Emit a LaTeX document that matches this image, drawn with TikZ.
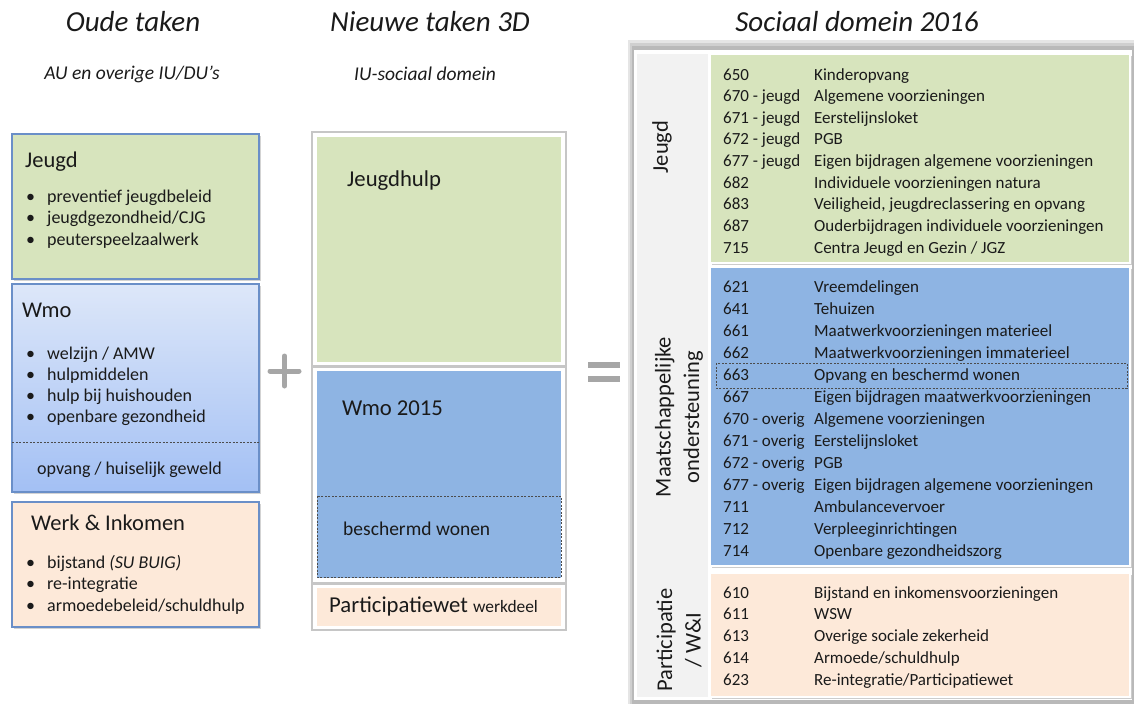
\documentclass[tikz,border=0pt]{standalone}
\usepackage{fontspec}
\setmainfont{Carlito}
\usetikzlibrary{shadows}
\definecolor{jgreen}{HTML}{D7E4BD}
\definecolor{wblue}{HTML}{8EB4E3}
\definecolor{ppeach}{HTML}{FDE9D9}
\definecolor{boxedge}{HTML}{6A8FC8}
\definecolor{wtop}{HTML}{DDE7F9}
\definecolor{wbot}{HTML}{A3C0F4}
\definecolor{panelgray}{HTML}{F2F2F2}
\definecolor{signgray}{HTML}{A6A6A6}
\definecolor{txt}{HTML}{1A1A1A}
\begin{document}
\begin{tikzpicture}[x=1pt,y=-1pt,
  title/.style={font=\fontsize{29}{34}\selectfont\itshape, inner sep=0pt, text=txt},
  subtitle/.style={font=\fontsize{19.5}{23}\selectfont\itshape, inner sep=0pt, text=txt},
  head/.style={font=\fontsize{22.5}{27}\selectfont, anchor=base west, inner sep=0pt, text=txt},
  item/.style={font=\fontsize{18}{21}\selectfont, anchor=base west, inner sep=0pt, text=txt},
  row/.style={font=\fontsize{17}{20}\selectfont, anchor=base west, inner sep=0pt, text=txt},
  midlabel/.style={font=\fontsize{22.7}{27}\selectfont, anchor=base west, inner sep=0pt, text=txt},
  sidelabel/.style={font=\fontsize{22.5}{28.5}\selectfont, rotate=90, align=center, inner sep=0pt, text=txt},
  oldbox/.style={draw=boxedge, line width=1.2pt,
    drop shadow={opacity=0.35, shadow xshift=1.5pt, shadow yshift=-1.5pt}},
  frame/.style={fill=white, draw=gray!45, line width=1.2pt,
    drop shadow={opacity=0.35, shadow xshift=1.2pt, shadow yshift=-1.2pt}},
  section/.style={draw=white, line width=1.2pt,
    drop shadow={opacity=0.4, shadow xshift=1.5pt, shadow yshift=-1.5pt}},
  dashbox/.style={draw=gray!60!black, dashed, dash pattern=on 2pt off 1.5pt, line width=0.6pt},
  sign/.style={draw=signgray, line width=5pt, line cap=round}
]
\useasboundingbox (0,0) rectangle (1134,704);

% ---------- column titles ----------
\node[title] (t1) at (133,22) {Oude taken};
\node[title] (t2) at (430,22) {Nieuwe taken 3D};
\node[title] (t3) at (857,22) {Sociaal domein 2016};
\node[subtitle] (s1) at (132,74) {AU en overige IU/DU’s};
\node[subtitle] (s2) at (425,74) {IU-sociaal domein};

% ---------- old tasks ----------
\draw[oldbox, fill=jgreen] (12,134) rectangle (259,279);
\node[head] (oj) at (25,167) {Jeugd};
\foreach \t [count=\i from 0] in {preventief jeugdbeleid, jeugdgezondheid/CJG, peuterspeelzaalwerk}{
  \node[item] (ojb\i) at (26,202+21.5*\i) {•};
  \node[item] (oji\i) at (47,202+21.5*\i) {\t};
}

\draw[oldbox, top color=wtop, bottom color=wbot] (12,284) rectangle (259,492);
\draw[dashbox] (12,442) -- (259,442);
\node[head] (ow) at (22,317) {Wmo};
\foreach \t [count=\i from 0] in {welzijn / AMW, hulpmiddelen, hulp bij huishouden, openbare gezondheid}{
  \node[item] (owb\i) at (26,359+21.3*\i) {•};
  \node[item] (owi\i) at (47,359+21.3*\i) {\t};
}
\node[item] (owo) at (37,474) {opvang / huiselijk geweld};

\draw[oldbox, fill=ppeach] (12,502) rectangle (259,627);
\node[head] (ok) at (31,530) {Werk \& Inkomen};
\node[item] (okb0) at (26,568) {•};
\node[item] (oki0) at (47,568) {bijstand \textit{(SU BUIG)}};
\foreach \t [count=\i from 1] in {re-integratie, armoedebeleid/schuldhulp}{
  \node[item] (okb\i) at (26,568+21.7*\i) {•};
  \node[item] (oki\i) at (47,568+21.7*\i) {\t};
}

% ---------- plus and equals ----------
\draw[sign] (270,371) -- (299,371);
\draw[sign] (284.5,356) -- (284.5,386);
\draw[sign, line width=5.5pt, line cap=butt] (588,365) -- (620,365);
\draw[sign, line width=5.5pt, line cap=butt] (588,379) -- (620,379);

% ---------- new tasks ----------
\draw[frame] (312,132) rectangle (566,366);
\fill[jgreen] (317,137) rectangle (561,362);
\node[midlabel] (nj) at (347,186) {Jeugdhulp};

\draw[frame] (312,367) rectangle (566,583);
\fill[wblue] (317,371) rectangle (561,578);
\node[midlabel] (nw) at (342,415) {Wmo 2015};
\draw[dashbox] (317,496) rectangle (561,577);
\node[item, font=\fontsize{19.5}{23}\selectfont] (nb) at (343,535) {beschermd wonen};

\draw[frame] (312,584) rectangle (566,630);
\fill[ppeach] (317,588) rectangle (561,626);
\node[midlabel] (np) at (329,612) {Participatiewet {\fontsize{17.4}{20}\selectfont werkdeel}};

% ---------- social domain 2016 ----------
\fill[gray!20] (628,40) rectangle (1134,704);
\fill[gray!38] (630,43) rectangle (1134,704);
\fill[gray!55] (632,46) rectangle (1134,704);
\fill[white] (634,50) rectangle (1132,700);
\fill[panelgray] (637,54) rectangle (708,697);

\draw[section, fill=jgreen] (710,54) rectangle (1130,263);
\draw[section, fill=wblue] (710,267) rectangle (1130,566);
\draw[section, fill=ppeach] (710,573) rectangle (1130,697);

\node[sidelabel] (lj) at (662,147) {Jeugd};
\node[sidelabel] (lm) at (679,417) {Maatschappelijke\\ondersteuning};
\node[sidelabel] (lp) at (679,640) {Participatie\\/ W\&I};

\foreach \c/\d [count=\i from 0] in {
  650/Kinderopvang,
  670 - jeugd/Algemene voorzieningen,
  671 - jeugd/Eerstelijnsloket,
  672 - jeugd/PGB,
  677 - jeugd/Eigen bijdragen algemene voorzieningen,
  682/Individuele voorzieningen natura,
  683/{Veiligheid, jeugdreclassering en opvang},
  687/Ouderbijdragen individuele voorzieningen,
  715/{Centra Jeugd en Gezin / JGZ}}{
  \node[row] (jc\i) at (723,80+21.65*\i) {\c};
  \node[row] (jd\i) at (814,80+21.65*\i) {\d};
}

\draw[dashbox] (716,363) rectangle (1127,388);
\foreach \c/\d [count=\i from 0] in {
  621/Vreemdelingen,
  641/Tehuizen,
  661/Maatwerkvoorzieningen materieel,
  662/Maatwerkvoorzieningen immaterieel,
  663/Opvang en beschermd wonen,
  667/Eigen bijdragen maatwerkvoorzieningen,
  670 - overig/Algemene voorzieningen,
  671 - overig/Eerstelijnsloket,
  672 - overig/PGB,
  677 - overig/Eigen bijdragen algemene voorzieningen,
  711/Ambulancevervoer,
  712/Verpleeginrichtingen,
  714/Openbare gezondheidszorg}{
  \node[row] (mc\i) at (723,292+22*\i) {\c};
  \node[row] (md\i) at (814,292+22*\i) {\d};
}

\foreach \c/\d [count=\i from 0] in {
  610/Bijstand en inkomensvoorzieningen,
  611/WSW,
  613/Overige sociale zekerheid,
  614/{Armoede/schuldhulp},
  623/{Re-integratie/Participatiewet}}{
  \node[row] (pc\i) at (723,598+21.75*\i) {\c};
  \node[row] (pd\i) at (814,598+21.75*\i) {\d};
}
\end{tikzpicture}
\end{document}
